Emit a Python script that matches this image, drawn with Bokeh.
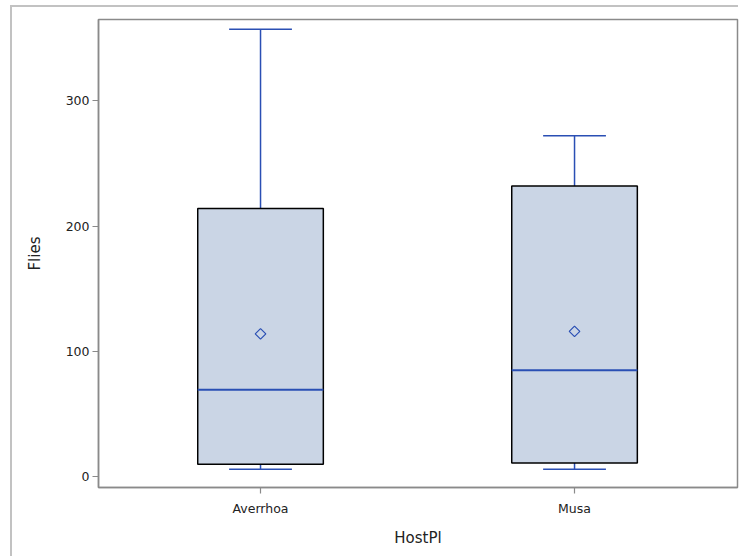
import math
from bokeh.plotting import figure
from bokeh.models import FixedTicker, Range1d
from bokeh.embed import file_html
from bokeh.resources import INLINE

# Data
categories = ["Averrhoa", "Musa"]
whisker_low = [6, 6]
q1 = [10, 11]
median = [69.5, 85]
q3 = [214, 232]
whisker_high = [357, 272]
mean = [114, 116]
y_ticks = [0, 100, 200, 300]

xpos = [i + 1 for i in range(len(categories))]
box_w = 0.4
cap_w = 0.2

FONT = "DejaVu Sans"
BLUE = "#2A4FB4"
FILL = "#CAD5E5"
AXIS = "#8a8a8a"

p = figure(width=728, height=551, output_backend="svg", toolbar_location=None,
           x_range=Range1d(0.484, 2.519), y_range=Range1d(-8.5, 364.7),
           min_border_left=86, min_border_right=3, min_border_top=12, min_border_bottom=71)
p.styles = {"margin-left": "12px", "margin-top": "7px", "box-shadow": "-2px -2px 0 0 #c2c2c2"}

p.xgrid.visible = False
p.ygrid.visible = False
p.outline_line_color = AXIS
p.outline_line_width = 1.5

# whiskers
p.segment(x0=xpos, y0=q3, x1=xpos, y1=whisker_high, line_color=BLUE, line_width=1.5)
p.segment(x0=xpos, y0=whisker_low, x1=xpos, y1=q1, line_color=BLUE, line_width=1.5)
p.segment(x0=[x - cap_w / 2 for x in xpos], y0=whisker_high,
          x1=[x + cap_w / 2 for x in xpos], y1=whisker_high, line_color=BLUE, line_width=1.5)
p.segment(x0=[x - cap_w / 2 for x in xpos], y0=whisker_low,
          x1=[x + cap_w / 2 for x in xpos], y1=whisker_low, line_color=BLUE, line_width=1.5)
# boxes
p.quad(left=[x - box_w / 2 for x in xpos], right=[x + box_w / 2 for x in xpos],
       bottom=q1, top=q3, fill_color=FILL, line_color="black", line_width=1.5)
# medians
p.segment(x0=[x - box_w / 2 for x in xpos], y0=median,
          x1=[x + box_w / 2 for x in xpos], y1=median, line_color=BLUE, line_width=2)
# means (square diamond)
p.scatter(x=xpos, y=mean, marker="square", size=7.5, angle=math.pi / 4, fill_color=None,
          line_color=BLUE, line_width=1.2)

for ax in (p.xaxis[0], p.yaxis[0]):
    ax.axis_line_color = AXIS
    ax.axis_line_width = 1.5
    ax.major_tick_line_color = AXIS
    ax.major_tick_line_width = 1.2
    ax.major_tick_out = 6
    ax.major_tick_in = 0
    ax.minor_tick_line_color = None
    ax.major_label_text_font = FONT
    ax.major_label_text_font_size = "12.5px"
    ax.major_label_text_color = "#222222"
    ax.axis_label_text_font = FONT
    ax.axis_label_text_font_size = "15px"
    ax.axis_label_text_font_style = "normal"
    ax.axis_label_text_color = "#222222"

p.xaxis.ticker = FixedTicker(ticks=xpos)
p.xaxis.major_label_overrides = {x: c for x, c in zip(xpos, categories)}
p.xaxis.axis_label = "HostPl"
p.xaxis.major_label_standoff = 7
p.xaxis.axis_label_standoff = 10

p.yaxis.ticker = FixedTicker(ticks=y_ticks)
p.yaxis.axis_label = "Flies"
p.yaxis.major_label_standoff = 3
p.yaxis.axis_label_standoff = 19

open("out.html", "w").write(file_html(p, INLINE))
